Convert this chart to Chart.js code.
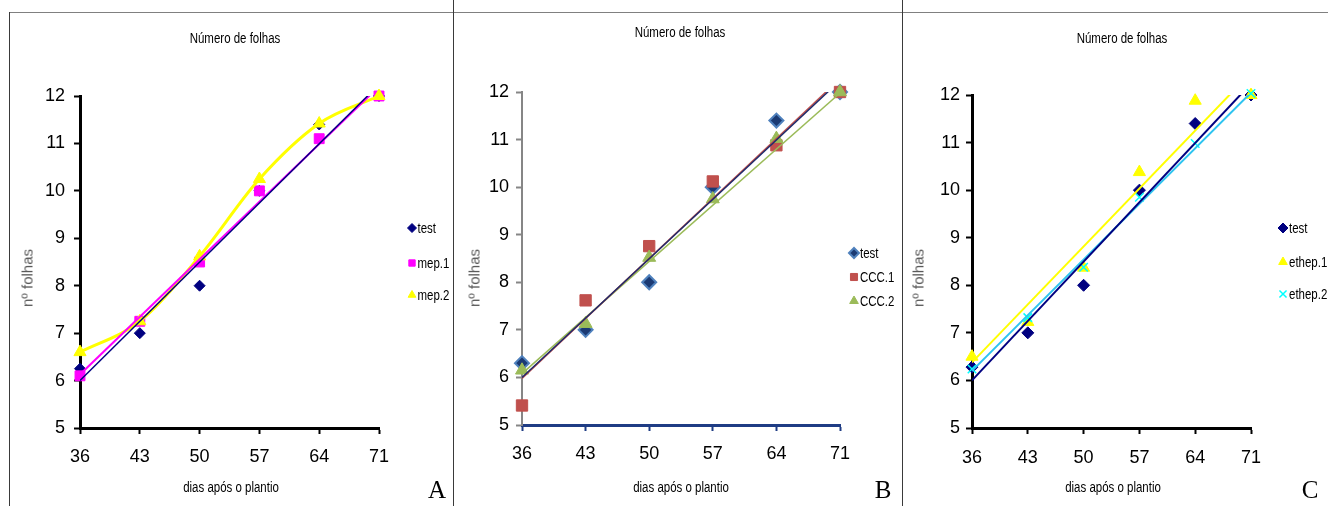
<!DOCTYPE html>
<html>
<head>
<meta charset="utf-8">
<script src="https://cdn.jsdelivr.net/npm/chart.js@4.4.1/dist/chart.umd.min.js"></script>
<style>
  html, body { margin: 0; padding: 0; background: #fff; }
  #wrap { position: relative; width: 1328px; height: 506px; overflow: hidden; }
  #wrap canvas { position: absolute; left: 0; top: 0; }
  .line { position: absolute; background: #3a3a3a; }
  .txt { position: absolute; transform: translate(-50%, -50%) scaleX(0.82); white-space: nowrap;
         font-family: 'Liberation Sans', Arial, sans-serif; color: #000; }
  .ttl, .xt { font-size: 14px; }
  .yt { font-size: 15px; color: #595959; transform: translate(-50%, -50%) rotate(-90deg); }
  .tag { font-family: 'Liberation Serif', 'Times New Roman', serif; font-size: 25px;
         transform: translate(-50%, -50%); }
</style>
</head>
<body>
<div id="wrap">
  <canvas id="chartA" width="1328" height="506"></canvas>
  <canvas id="chartB" width="1328" height="506"></canvas>
  <canvas id="chartC" width="1328" height="506"></canvas>

  <div class="line" style="left:9px; top:12px; width:1319px; height:1px; background:#808080"></div>
  <div class="line" style="left:9px; top:12px; width:1px; height:494px"></div>
  <div class="line" style="left:453px; top:0px; width:1px; height:506px"></div>
  <div class="line" style="left:902px; top:0px; width:1px; height:506px"></div>

  <div class="txt ttl" style="left:235px; top:38px">Número de folhas</div>
  <div class="txt ttl" style="left:680px; top:32px">Número de folhas</div>
  <div class="txt ttl" style="left:1122px; top:38px">Número de folhas</div>

  <div class="txt xt" style="left:231px; top:487px">dias após o plantio</div>
  <div class="txt xt" style="left:681px; top:487px">dias após o plantio</div>
  <div class="txt xt" style="left:1113px; top:487px">dias após o plantio</div>

  <div class="txt yt" style="left:27px; top:278px">nº folhas</div>
  <div class="txt yt" style="left:474px; top:278px">nº folhas</div>
  <div class="txt yt" style="left:918px; top:278px">nº folhas</div>

  <div class="txt tag" style="left:437px; top:490px">A</div>
  <div class="txt tag" style="left:883px; top:490px">B</div>
  <div class="txt tag" style="left:1310px; top:490px">C</div>
</div>

<script>
// x categories (dias após o plantio) and y axis range
const days = [36, 43, 50, 57, 64, 71];
const yMin = 5;
const yMax = 12;
const trendDays = [36, 71];

// panel A
const testA = [6.25, 7.0, 8.0, 10.0, 11.4, 12.0];
const mep1 = [6.1, 7.25, 8.5, 10.0, 11.1, 12.0];
const mep2 = [6.6, 7.25, 8.62, 10.25, 11.42, 12.0];
const trendTestA = [6.0, 12.24];
const trendMep1 = [6.13, 12.2];

// panel B
const testB = [6.3, 7.0, 8.0, 10.0, 11.4, 12.0];
const ccc1 = [5.41, 7.62, 8.76, 10.12, 10.88, 12.0];
const ccc2 = [6.15, 7.13, 8.52, 9.75, 11.02, 12.0];
const trendTestB = [6.0, 12.24];
const trendCcc1 = [5.98, 12.28];
const trendCcc2 = [6.08, 11.98];

// panel C
const testC = [6.28, 7.0, 8.0, 10.0, 11.4, 12.0];
const ethep1 = [6.5, 7.23, 8.37, 10.38, 11.88, 12.0];
const ethep2 = [6.24, 7.32, 8.38, 9.85, 10.98, 12.03];
const trendTestC = [6.0, 12.24];
const trendEthep1 = [6.38, 12.47];
const trendEthep2 = [6.2, 12.05];

const FONT = "'Liberation Sans', Arial, sans-serif";

const pts = (ys) => days.map((d, i) => ({ x: d, y: ys[i] }));
const trend = (ys) => trendDays.map((d, i) => ({ x: d, y: ys[i] }));

function markers(label, ys, style, fill, border, radius, order, extra) {
  return Object.assign({
    label,
    data: pts(ys),
    showLine: false,
    pointStyle: style,
    pointRadius: radius,
    pointBackgroundColor: fill,
    pointBorderColor: border,
    pointBorderWidth: 1,
    order,
    clip: false,
  }, extra || {});
}

function trendLine(ys, color, width) {
  return {
    label: '',
    data: trend(ys),
    showLine: true,
    pointRadius: 0,
    borderColor: color,
    borderWidth: width,
    order: 0,
    clip: 0,
  };
}

// small legend drawn beside the plot, text squeezed like a narrow face
const sideLegend = {
  id: 'sideLegend',
  afterDraw(chart, args, opts) {
    if (!opts.rows) return;
    const { ctx } = chart;
    opts.rows.forEach((idx, i) => {
      const ds = chart.data.datasets[idx];
      const y = opts.ys[i];
      ctx.save();
      ctx.fillStyle = ds.pointBackgroundColor;
      ctx.strokeStyle = ds.pointBorderColor;
      ctx.lineWidth = ds.pointBorderWidth;
      Chart.helpers.drawPoint(ctx, {
        pointStyle: ds.pointStyle,
        radius: opts.radius,
        rotation: 0,
        borderWidth: ds.pointBorderWidth,
      }, opts.x, y);
      ctx.translate(opts.x + opts.radius + 1, y + 1);
      ctx.scale(0.82, 1);
      ctx.font = '14px ' + FONT;
      ctx.textBaseline = 'middle';
      ctx.textAlign = 'left';
      ctx.fillStyle = '#000';
      ctx.fillText(ds.label, 0, 0);
      ctx.restore();
    });
  },
};

function makePanel(id, datasets, box, axis, legend) {
  const ctx = document.getElementById(id).getContext('2d');
  return new Chart(ctx, {
    type: 'scatter',
    data: { datasets },
    plugins: [sideLegend],
    options: {
      responsive: false,
      animation: false,
      events: [],
      layout: {
        padding: { left: box.left - 40, right: 1328 - box.right, top: box.top, bottom: 506 - box.bottom - 50 },
      },
      plugins: {
        legend: { display: false },
        tooltip: { enabled: false },
        sideLegend: legend,
      },
      scales: {
        x: {
          type: 'linear',
          min: days[0],
          max: days[days.length - 1],
          afterBuildTicks: (s) => { s.ticks = days.map((v) => ({ value: v })); },
          afterFit: (s) => { s.height = 50; },
          ticks: { color: '#000', font: { family: FONT, size: 18 }, padding: box.xPad, maxRotation: 0 },
          grid: { drawOnChartArea: false, drawTicks: true, tickLength: 6, tickWidth: axis.xTickW, tickColor: axis.xColor },
          border: { display: true, color: axis.xColor, width: axis.xW },
        },
        y: {
          type: 'linear',
          min: yMin,
          max: yMax,
          afterFit: (s) => { s.width = 40; },
          ticks: { stepSize: 1, color: '#000', font: { family: FONT, size: 18 }, padding: box.yPad },
          grid: { drawOnChartArea: false, drawTicks: true, tickLength: 6, tickWidth: axis.yTickW, tickColor: axis.yColor },
          border: { display: true, color: axis.yColor, width: axis.yW },
        },
      },
    },
  });
}

// panel A
makePanel('chartA', [
  markers('test', testA, 'rectRot', '#000080', '#000080', 5.5, 3),
  markers('mep.1', mep1, 'rect', '#FF00FF', '#FF00FF', 7, 2),
  markers('mep.2', mep2, 'triangle', '#FFFF00', '#FFFF00', 7, 1, {
    showLine: true, borderColor: '#FFFF00', borderWidth: 3, cubicInterpolationMode: 'monotone',
  }),
  trendLine(trendTestA, '#000080', 1.5),
  trendLine(trendMep1, '#FF00FF', 2),
], { left: 80, right: 379, top: 96, bottom: 428, xPad: 12, yPad: 9 },
{ xColor: '#000', xW: 3, xTickW: 2, yColor: '#000', yW: 3, yTickW: 2 },
{ rows: [0, 1, 2], x: 412, ys: [228, 263, 295], radius: 4.5 });

// panel B
makePanel('chartB', [
  markers('test', testB, 'rectRot', '#1B3A73', '#4F81BD', 7, 3, { pointBorderWidth: 2 }),
  markers('CCC.1', ccc1, 'rect', '#C0504D', '#C0504D', 8, 2),
  markers('CCC.2', ccc2, 'triangle', '#9BBB59', '#9BBB59', 7.5, 1),
  trendLine(trendTestB, '#1F2A6B', 1.5),
  trendLine(trendCcc1, '#C0504D', 1.5),
  trendLine(trendCcc2, '#9BBB59', 1.5),
], { left: 522, right: 840, top: 92, bottom: 425, xPad: 12, yPad: 7 },
{ xColor: '#1F3C84', xW: 3, xTickW: 2, yColor: '#868686', yW: 2, yTickW: 2 },
{ rows: [0, 1, 2], x: 854, ys: [253, 277, 301], radius: 5 });

// panel C
makePanel('chartC', [
  markers('test', testC, 'rectRot', '#000080', '#000080', 6, 3),
  markers('ethep.1', ethep1, 'triangle', '#FFFF00', '#FFFF00', 7, 2),
  markers('ethep.2', ethep2, 'crossRot', '#00FFFF', '#00FFFF', 6, 1, { pointBorderWidth: 1.5 }),
  trendLine(trendTestC, '#000080', 2),
  trendLine(trendEthep1, '#FFFF00', 2),
  trendLine(trendEthep2, '#2EC4F0', 2),
], { left: 972, right: 1251, top: 95, bottom: 428, xPad: 13, yPad: 6 },
{ xColor: '#000', xW: 3, xTickW: 2, yColor: '#000', yW: 3, yTickW: 2 },
{ rows: [0, 1, 2], x: 1283, ys: [228, 262, 294], radius: 5 });
</script>
</body>
</html>
